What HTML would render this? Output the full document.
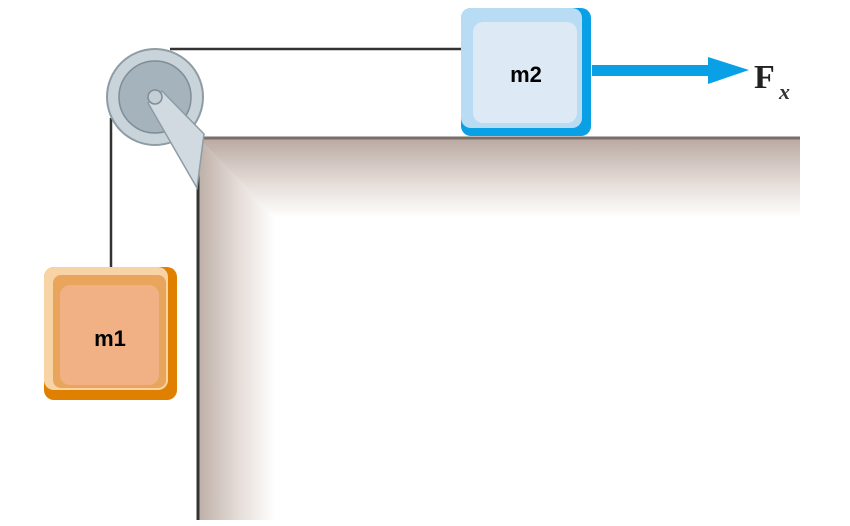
<!DOCTYPE html>
<html><head><style>body{margin:0;background:#fff}svg{display:block}</style></head><body>
<svg width="850" height="526" viewBox="0 0 850 526" xmlns="http://www.w3.org/2000/svg">
<defs>
<linearGradient id="gt" gradientUnits="userSpaceOnUse" x1="0" y1="137" x2="0" y2="218"><stop offset="0" stop-color="#b8a8a0"/><stop offset="0.55" stop-color="#e4dbd6"/><stop offset="1" stop-color="#fff"/></linearGradient>
<linearGradient id="gl" gradientUnits="userSpaceOnUse" x1="197" y1="0" x2="275" y2="0"><stop offset="0" stop-color="#bcaea6"/><stop offset="0.55" stop-color="#e6ded9"/><stop offset="1" stop-color="#fff"/></linearGradient>
</defs>
<polygon points="197,137 800,137 800,218 275,218 197,137" fill="url(#gt)"/>
<polygon points="197,137 275,218 275,520 197,520" fill="url(#gl)"/>
<line x1="197" y1="138" x2="800" y2="138" stroke="#7a6e68" stroke-width="3"/>
<line x1="198" y1="137" x2="198" y2="520" stroke="#333" stroke-width="3"/>
<line x1="170" y1="49" x2="462" y2="49" stroke="#333" stroke-width="2.5"/>
<line x1="111" y1="118" x2="111" y2="268" stroke="#333" stroke-width="2.5"/>
<circle cx="155" cy="97" r="48" fill="#c9d3da" stroke="#8e9ca5" stroke-width="2"/>
<circle cx="155" cy="97" r="36" fill="#a5b3bc" stroke="#7f8d96" stroke-width="1.5"/>
<polygon points="148,103 162,91 204,134 197,188" fill="#d0dae0" stroke="#8e9ca5" stroke-width="1.5"/>
<circle cx="155" cy="97" r="7" fill="#c4ced5" stroke="#7f8d96" stroke-width="1.5"/>
<rect x="461" y="8" width="130" height="128" rx="10" fill="#0aa0e6"/>
<rect x="461" y="8" width="121" height="120" rx="10" fill="#b8dcf4"/>
<rect x="473" y="22" width="104" height="101" rx="10" fill="#dde9f5"/>
<text x="526" y="82" font-family="Liberation Sans, sans-serif" font-weight="bold" font-size="22" text-anchor="middle">m2</text>
<rect x="592" y="65" width="122" height="11" fill="#0aa0e6"/>
<polygon points="708,57 749,70 708,84" fill="#0aa0e6"/>
<text x="754" y="88" font-family="Liberation Serif, serif" font-weight="bold" font-size="34" fill="#222">F</text>
<text x="779" y="99" font-family="Liberation Serif, serif" font-style="italic" font-weight="bold" font-size="22" fill="#333">x</text>
<rect x="44" y="267" width="133" height="133" rx="10" fill="#e08000"/>
<rect x="44" y="267" width="124" height="123" rx="10" fill="#f7d3a6"/>
<rect x="53" y="275" width="113" height="113" rx="8" fill="#eaa55c"/>
<rect x="60" y="285" width="99" height="100" rx="10" fill="#f2b085"/>
<text x="110" y="346" font-family="Liberation Sans, sans-serif" font-weight="bold" font-size="22" text-anchor="middle">m1</text>
</svg>
</body></html>
